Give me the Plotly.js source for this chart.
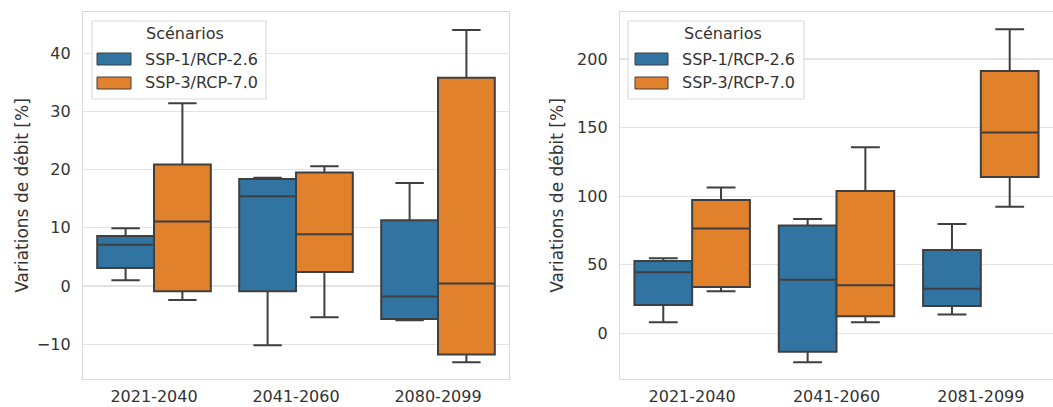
<!DOCTYPE html>
<html>
<head>
<meta charset="utf-8">
<script src="https://cdn.plot.ly/plotly-3.0.1.min.js"></script>
<style>html,body{margin:0;padding:0;background:#fff;}#chart{width:1053px;height:407px;}</style>
</head>
<body>
<div id="chart"></div>
<script>
// ---- Data ----
const periodsLeft = ["2021-2040", "2041-2060", "2080-2099"];
const periodsRight = ["2021-2040", "2041-2060", "2081-2099"];
const scenarios = ["SSP-1/RCP-2.6", "SSP-3/RCP-7.0"];

// Left panel, SSP-1/RCP-2.6
const leftSsp1Low = [1.0, -10.2, -5.9];
const leftSsp1Q1 = [3.1, -0.9, -5.7];
const leftSsp1Med = [7.1, 15.4, -1.8];
const leftSsp1Q3 = [8.6, 18.4, 11.3];
const leftSsp1High = [9.9, 18.6, 17.7];
// Left panel, SSP-3/RCP-7.0
const leftSsp3Low = [-2.4, -5.4, -13.1];
const leftSsp3Q1 = [-0.9, 2.4, -11.8];
const leftSsp3Med = [11.1, 8.9, 0.4];
const leftSsp3Q3 = [20.9, 19.5, 35.8];
const leftSsp3High = [31.4, 20.6, 44.0];

// Right panel, SSP-1/RCP-2.6
const rightSsp1Low = [8.0, -21.1, 13.8];
const rightSsp1Q1 = [20.6, -13.4, 19.9];
const rightSsp1Med = [44.5, 39.1, 32.5];
const rightSsp1Q3 = [52.7, 78.7, 60.7];
const rightSsp1High = [54.7, 83.3, 79.7];
// Right panel, SSP-3/RCP-7.0
const rightSsp3Low = [30.6, 8.0, 92.3];
const rightSsp3Q1 = [33.7, 12.4, 113.9];
const rightSsp3Med = [76.5, 35.0, 146.5];
const rightSsp3Q3 = [97.2, 103.7, 191.2];
const rightSsp3High = [106.4, 135.6, 221.8];

const leftTicks = [-10, 0, 10, 20, 30, 40];
const rightTicks = [0, 50, 100, 150, 200];

// ---- Styling ----
const W = 1053, H = 407;
const colors = ["#3274a1", "#e1812c"];
const edge = "#3f3f3f";
const textColor = "#333333";
const FONT = "DejaVu Sans, sans-serif";
const px = v => v / W;
const py = v => 1 - v / H;

function boxTrace(x, low, q1, med, q3, high, name, color, xa, ya) {
  return {
    type: "box", x: x, lowerfence: low, q1: q1, median: med, q3: q3, upperfence: high,
    name: name, xaxis: xa, yaxis: ya, fillcolor: color,
    line: {color: edge, width: 2}, whiskerwidth: 0.5, boxpoints: false,
    showlegend: false, hoverinfo: "skip", offsetgroup: name
  };
}

const data = [
  boxTrace(periodsLeft, leftSsp1Low, leftSsp1Q1, leftSsp1Med, leftSsp1Q3, leftSsp1High, scenarios[0], colors[0], "x", "y"),
  boxTrace(periodsLeft, leftSsp3Low, leftSsp3Q1, leftSsp3Med, leftSsp3Q3, leftSsp3High, scenarios[1], colors[1], "x", "y"),
  boxTrace(periodsRight, rightSsp1Low, rightSsp1Q1, rightSsp1Med, rightSsp1Q3, rightSsp1High, scenarios[0], colors[0], "x2", "y2"),
  boxTrace(periodsRight, rightSsp3Low, rightSsp3Q1, rightSsp3Med, rightSsp3Q3, rightSsp3High, scenarios[1], colors[1], "x2", "y2")
];

const axisCommon = {
  showline: true, mirror: true, linecolor: "#d9d9d9", linewidth: 1.2,
  ticks: "", zeroline: false,
  tickfont: {family: FONT, size: 16, color: textColor}
};

const yDomain = [1 - 379 / H, 1 - 12 / H];

const layout = {
  width: W, height: H,
  margin: {l: 0, r: 0, t: 0, b: 0},
  paper_bgcolor: "#ffffff", plot_bgcolor: "#ffffff",
  boxmode: "group", boxgap: 0.2, boxgroupgap: 0,
  showlegend: false,
  font: {family: FONT, color: textColor},
  xaxis: Object.assign({}, axisCommon, {
    domain: [px(83), px(509)], anchor: "y", type: "category",
    range: [-0.5, 2.5], showgrid: false, ticklabelstandoff: 3
  }),
  yaxis: Object.assign({}, axisCommon, {
    domain: yDomain, anchor: "x", range: [-16, 47.1],
    tickvals: leftTicks, ticktext: leftTicks.map(v => v < 0 ? "\u2212" + Math.abs(v) : String(v)),
    showgrid: true, gridcolor: "#e3e3e3", gridwidth: 1.2, ticklabelstandoff: 8,
    title: {text: "Variations de débit [%]", font: {family: FONT, size: 17, color: textColor}, standoff: 3}
  }),
  xaxis2: Object.assign({}, axisCommon, {
    domain: [px(620), 1], anchor: "y2", type: "category",
    range: [-0.5, 2.5], showgrid: false, ticklabelstandoff: 3
  }),
  yaxis2: Object.assign({}, axisCommon, {
    domain: yDomain, anchor: "x2", range: [-33.3, 234.3],
    tickvals: rightTicks, ticktext: rightTicks.map(String),
    showgrid: true, gridcolor: "#e3e3e3", gridwidth: 1.2, ticklabelstandoff: 8,
    title: {text: "Variations de débit [%]", font: {family: FONT, size: 17, color: textColor}, standoff: 9}
  }),
  shapes: [],
  annotations: []
};

// Legends (one per panel), drawn as paper-positioned decorations
function addLegend(bx0, bx1, patchX0, patchX1, textX, titleX) {
  layout.shapes.push({
    type: "rect", xref: "paper", yref: "paper", layer: "above",
    x0: px(bx0), x1: px(bx1), y0: py(99), y1: py(21),
    line: {color: "#dcdcdc", width: 1.2}, fillcolor: "rgba(255,255,255,0.85)"
  });
  layout.annotations.push({
    xref: "paper", yref: "paper", x: px(titleX), y: py(33), xanchor: "center", yanchor: "middle",
    text: "Scénarios", showarrow: false, font: {family: FONT, size: 16, color: textColor}
  });
  const rows = [59, 83];
  scenarios.forEach((s, i) => {
    layout.shapes.push({
      type: "rect", xref: "paper", yref: "paper", layer: "above",
      x0: px(patchX0), x1: px(patchX1), y0: py(rows[i] + 6), y1: py(rows[i] - 6),
      line: {color: edge, width: 1}, fillcolor: colors[i]
    });
    layout.annotations.push({
      xref: "paper", yref: "paper", x: px(textX), y: py(rows[i]), xanchor: "left", yanchor: "middle",
      text: s, showarrow: false, font: {family: FONT, size: 16, color: textColor}
    });
  });
}
addLegend(92, 266, 97, 131, 143, 185);
addLegend(628, 804, 635, 668, 680, 723);

Plotly.newPlot("chart", data, layout, {displayModeBar: false, staticPlot: true});
</script>
</body>
</html>
